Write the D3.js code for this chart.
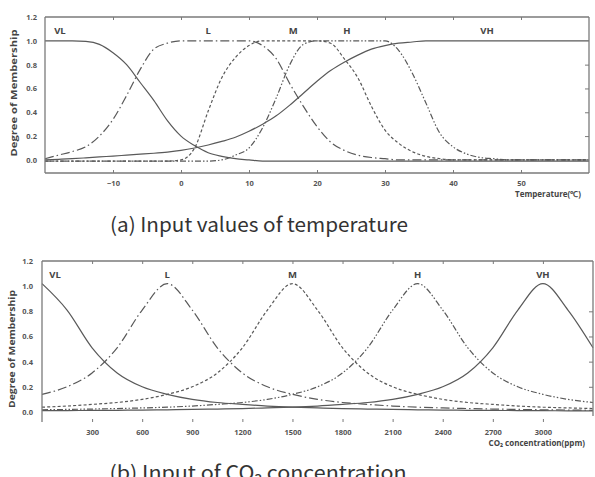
<!DOCTYPE html>
<html>
<head>
<meta charset="utf-8">
<script src="https://cdn.jsdelivr.net/npm/d3@7"></script>
<style>
  body { margin: 0; background: #fff; }
  svg { display: block; }
  .tick text { font-family: "Open Sans", sans-serif; font-weight: bold; font-size: 7.5px; fill: #555; }
</style>
</head>
<body>
<svg id="chart"></svg>
<script>
// Temperature membership (a)
const tempX = [-20,-18,-16,-14,-12,-10,-8,-6,-4,-2,0,2,4,6,8,10,12,14,16,18,20,22,24,26,28,30,32,34,36,38,40,42,44,46,48,50,52,54,56,58,60];
const tempVL = [1.0,1.0,1.0,0.995,0.97,0.9,0.8,0.65,0.5,0.33,0.2,0.12,0.06,0.03,0.01,0.0,
  -0.01,-0.01,-0.01,-0.01,-0.01,-0.01,-0.01,-0.01,-0.01,-0.01,-0.01,-0.01,-0.01,-0.01,-0.01,-0.01,-0.01,-0.01,-0.01,-0.01,-0.01,-0.01,-0.01,-0.01,-0.01];
const tempL = [0.01,0.04,0.07,0.11,0.2,0.34,0.54,0.76,0.93,0.98,1.0,1.0,1.0,1.0,1.0,1.0,0.96,0.85,0.64,0.45,0.28,0.15,0.08,0.04,0.02,0.01,
  0,0,0,0,0,0,0,0,0,0,0,0,0,0,0];
const tempM = [-0.01,-0.01,-0.01,-0.01,-0.01,-0.01,-0.01,-0.01,-0.01,-0.01,0.0,0.1,0.41,0.69,0.86,0.96,1.0,1.0,1.0,1.0,1.0,0.98,0.85,0.69,0.45,0.25,0.14,0.07,0.03,0.01,
  0,0,0,0,0,0,0,0,0,0,0];
const tempH = [-0.01,-0.01,-0.01,-0.01,-0.01,-0.01,-0.01,-0.01,-0.01,-0.01,-0.01,-0.01,-0.01,0.0,0.04,0.1,0.27,0.52,0.8,0.97,1.0,1.0,1.0,1.0,1.0,1.0,0.92,0.73,0.48,0.23,0.11,0.05,0.02,0.01,
  0,0,0,0,0,0,0];
const tempVH = [0.0,0.005,0.01,0.017,0.025,0.032,0.04,0.048,0.056,0.066,0.08,0.1,0.125,0.155,0.19,0.24,0.3,0.37,0.46,0.56,0.66,0.75,0.82,0.88,0.93,0.96,0.98,0.99,
  1,1,1,1,1,1,1,1,1,1,1,1,1];
const tempTicks = [-10,0,10,20,30,40,50];
const tempLabels = ["VL","L","M","H","VH"];
const tempLabelAt = [-17.8,4,16.5,24.4,45];

// CO2 membership (b)
const co2X = [0,150,300,450,600,750,900,1050,1200,1350,1500,1650,1800,1950,2100,2250,2400,2550,2700,2850,3000,3150,3300];
const co2VL = [1.02,0.81,0.51,0.31,0.2,0.14,0.1,0.075,0.06,0.047,0.038,0.032,0.027,0.023,0.02,0.017,0.015,0.013,0.012,0.011,0.01,0.009,0.008];
const co2L = [0.14,0.2,0.31,0.51,0.81,1.02,0.81,0.51,0.31,0.2,0.14,0.1,0.075,0.06,0.047,0.038,0.032,0.027,0.023,0.02,0.017,0.015,0.013];
const co2M = [0.038,0.047,0.06,0.075,0.1,0.14,0.2,0.31,0.51,0.81,1.02,0.81,0.51,0.31,0.2,0.14,0.1,0.075,0.06,0.047,0.038,0.032,0.027];
const co2H = [0.017,0.02,0.023,0.027,0.032,0.038,0.047,0.06,0.075,0.1,0.14,0.2,0.31,0.51,0.81,1.02,0.81,0.51,0.31,0.2,0.14,0.1,0.075];
const co2VH = [0.01,0.011,0.012,0.013,0.015,0.017,0.02,0.023,0.027,0.032,0.038,0.047,0.06,0.075,0.1,0.14,0.2,0.31,0.51,0.81,1.02,0.81,0.51];
const co2Ticks = [300,600,900,1200,1500,1800,2100,2400,2700,3000];
const co2Labels = ["VL","L","M","H","VH"];
const co2LabelAt = [78,750,1500,2250,3000];

const yTicks = [0,0.2,0.4,0.6,0.8,1.0,1.2];

// line styles per term
const dashes = [null, "9,3,1.5,3", "3,2.2", "6,2,1.5,2,1.5,2", null];

const width = 595, height = 477;
const svg = d3.select("#chart").attr("width", width).attr("height", height);

const lineColor = "#595959";
const frameColor = "#7a7a7a";

function drawPanel(cfg) {
  const g = svg.append("g");
  const x = d3.scaleLinear().domain(cfg.xDomain).range([cfg.left, cfg.right]);
  const y = d3.scaleLinear().domain(cfg.yDomain).range([cfg.bottom, cfg.top]);

  // curves
  const line = d3.line()
      .x(d => x(d[0]))
      .y(d => y(d[1]))
      .curve(d3.curveMonotoneX);

  cfg.series.forEach((vals, i) => {
    g.append("path")
      .datum(cfg.xs.map((v, j) => [v, vals[j]]))
      .attr("fill", "none")
      .attr("stroke", lineColor)
      .attr("stroke-width", 1.2)
      .attr("stroke-dasharray", dashes[i])
      .attr("d", line);
  });

  // frame
  const fr = g.append("g").attr("stroke", frameColor).attr("stroke-width", 1.3).attr("fill", "none");
  fr.append("line").attr("x1", cfg.left).attr("x2", cfg.right).attr("y1", cfg.top).attr("y2", cfg.top);
  fr.append("line").attr("x1", cfg.left).attr("x2", cfg.left).attr("y1", cfg.top).attr("y2", cfg.bottom);
  fr.append("line").attr("x1", cfg.right).attr("x2", cfg.right).attr("y1", cfg.top).attr("y2", cfg.rightBottom);
  if (cfg.bottomFrame) {
    fr.append("line").attr("x1", cfg.left).attr("x2", cfg.right).attr("y1", cfg.bottom).attr("y2", cfg.bottom);
  }

  // axes
  const xAxis = g.append("g")
      .attr("transform", `translate(0,${cfg.bottom})`)
      .call(d3.axisBottom(x).tickValues(cfg.ticks).tickSize(-3).tickPadding(8).tickFormat(d3.format("d")));
  xAxis.select(".domain").remove();

  const topAxis = g.append("g")
      .attr("transform", `translate(0,${cfg.top})`)
      .call(d3.axisTop(x).tickValues(cfg.ticks).tickSize(-3).tickFormat(""));
  topAxis.select(".domain").remove();

  const yAxis = g.append("g")
      .attr("transform", `translate(${cfg.left},0)`)
      .call(d3.axisLeft(y).tickValues(yTicks).tickSize(0).tickPadding(cfg.yPad).tickFormat(d3.format(".1f")));
  yAxis.select(".domain").remove();

  const rAxis = g.append("g")
      .attr("transform", `translate(${cfg.right},0)`)
      .call(d3.axisRight(y).tickValues([0.2,0.4,0.6,0.8]).tickSize(-4).tickFormat(""));
  rAxis.select(".domain").remove();

  g.selectAll(".tick line").attr("stroke", frameColor).attr("stroke-width", 1);

  // term labels
  g.selectAll(".term")
    .data(cfg.labels)
    .join("text")
      .attr("class", "term")
      .attr("x", (d, i) => x(cfg.labelAt[i]))
      .attr("y", cfg.labelY)
      .attr("text-anchor", "middle")
      .attr("font-family", "Open Sans, sans-serif")
      .attr("font-weight", "bold")
      .attr("font-size", 9.5)
      .attr("fill", "#444")
      .text(d => d);

  // y title
  g.append("text")
    .attr("transform", `translate(${cfg.yTitleX},${cfg.yTitleY}) rotate(-90)`)
    .attr("text-anchor", "middle")
    .attr("font-family", "Open Sans, sans-serif")
    .attr("font-weight", "bold")
    .attr("font-size", 8.5)
    .attr("fill", "#444")
    .attr("textLength", cfg.yTitleLen)
    .attr("lengthAdjust", "spacingAndGlyphs")
    .text("Degree of Membership");

  // x title
  g.append("text")
    .attr("x", cfg.xTitleX)
    .attr("y", cfg.xTitleY)
    .attr("text-anchor", "end")
    .attr("font-family", "Open Sans, sans-serif")
    .attr("font-weight", "bold")
    .attr("font-size", 8)
    .attr("fill", "#444")
    .text(cfg.xTitle);

  // caption
  svg.append("text")
    .attr("x", cfg.capX)
    .attr("y", cfg.capY)
    .attr("text-anchor", "middle")
    .attr("font-family", "Noto Sans CJK KR, Noto Sans, sans-serif")
    .attr("font-size", 20)
    .attr("fill", "#333")
    .attr("textLength", cfg.capLen)
    .attr("lengthAdjust", "spacingAndGlyphs")
    .text(cfg.caption);
}

drawPanel({
  xs: tempX,
  series: [tempVL, tempL, tempM, tempH, tempVH],
  xDomain: [-20, 60], yDomain: [-0.11, 1.2],
  left: 45, right: 589, top: 17, bottom: 173, rightBottom: 173, bottomFrame: true,
  ticks: tempTicks, yPad: 8,
  labels: tempLabels, labelAt: tempLabelAt, labelY: 34,
  yTitleX: 17, yTitleY: 93, yTitleLen: 127,
  xTitle: "Temperature(℃)", xTitleX: 581, xTitleY: 197,
  caption: "(a) Input values of temperature", capX: 259, capY: 232, capLen: 298
});

drawPanel({
  xs: co2X,
  series: [co2VL, co2L, co2M, co2H, co2VH],
  xDomain: [0, 3300], yDomain: [-0.08, 1.2],
  left: 42, right: 593, top: 261, bottom: 422, rightBottom: 416, bottomFrame: false,
  ticks: co2Ticks, yPad: 9,
  labels: co2Labels, labelAt: co2LabelAt, labelY: 278,
  yTitleX: 15, yTitleY: 349, yTitleLen: 118,
  xTitle: "CO₂ concentration(ppm)", xTitleX: 585, xTitleY: 446,
  caption: "(b) Input of CO₂ concentration", capX: 258, capY: 480, capLen: 297
});
</script>
</body>
</html>
